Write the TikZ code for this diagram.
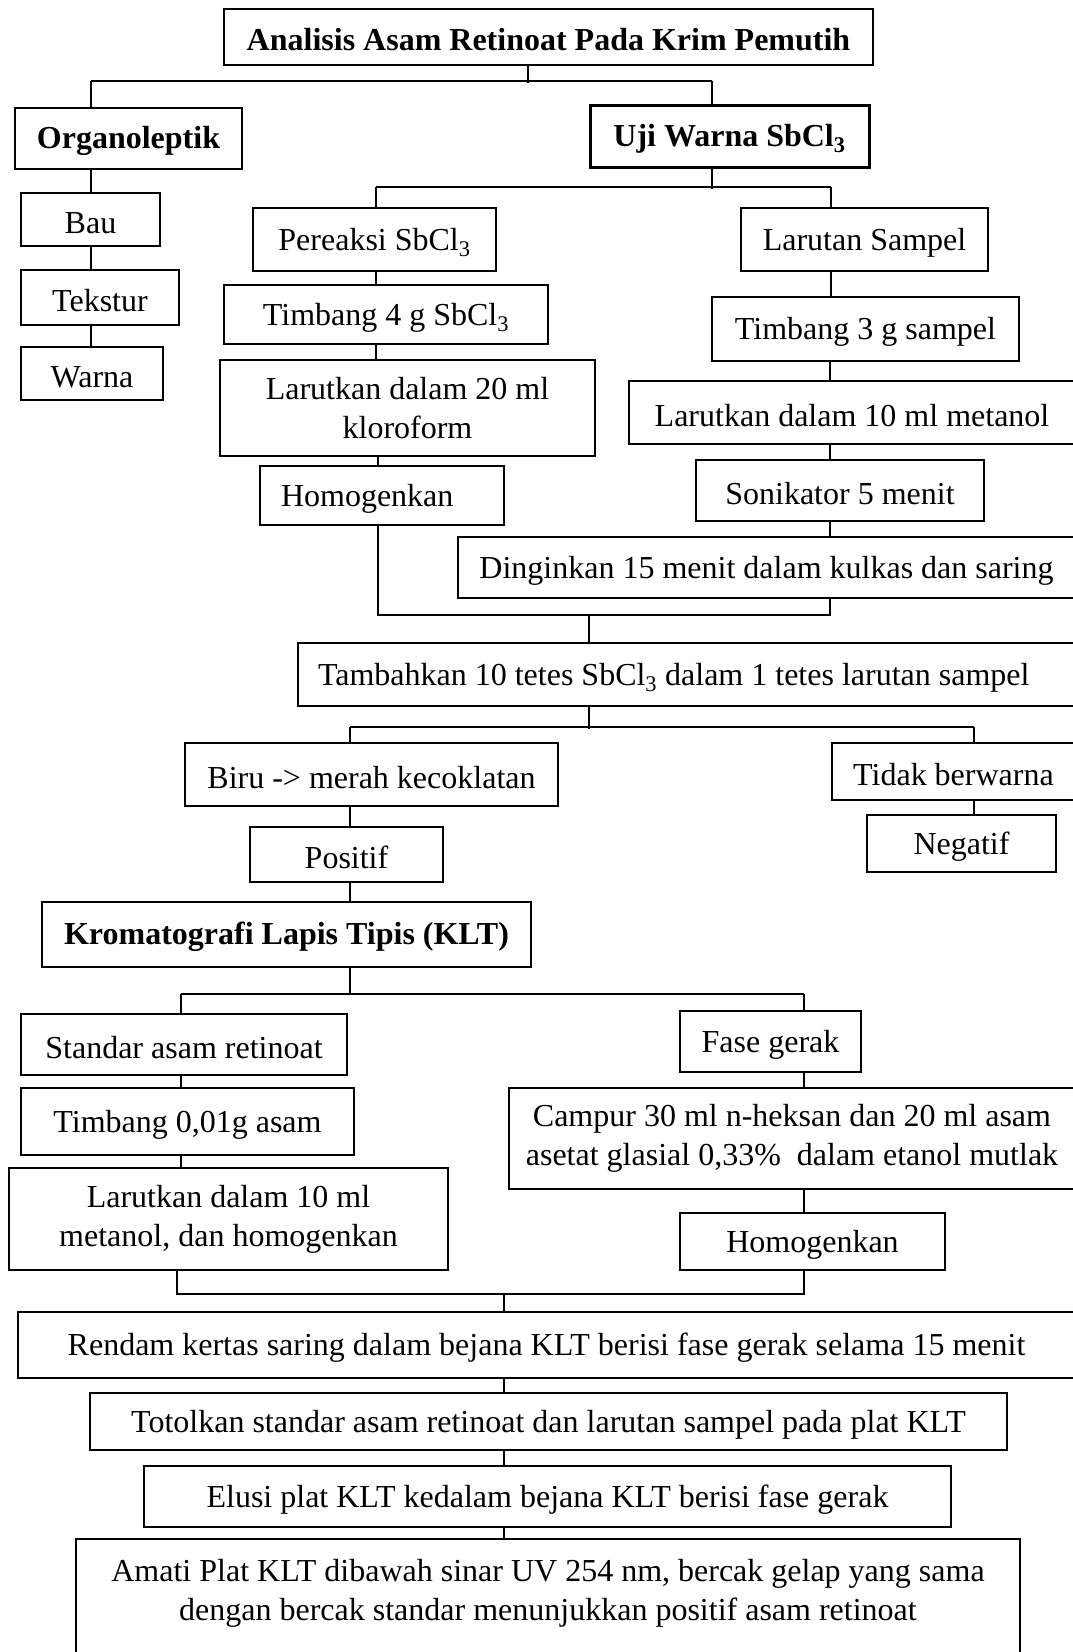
\documentclass[tikz,border=0pt]{standalone}
\usepackage{fontspec}
\setmainfont{Liberation Serif}
\usepackage{tikz}
\usetikzlibrary{positioning}
\newcommand{\sbcl}{SbCl\textsubscript{3}}

\tikzset{
  kotakdasar/.style={draw, line width=1.5pt, inner sep=0pt, align=center, font=\fontsize{32}{39}\selectfont},
  kotak/.style={kotakdasar, text height=28pt},
  judul/.style={kotak, font=\fontsize{32}{39}\selectfont\bfseries},
  dim/.style 2 args={minimum width=#1pt, minimum height=#2pt},
  garis/.style={line width=1.3pt},
}

\begin{document}
\begin{tikzpicture}[x=1pt,y=1pt,yscale=-1,xscale=1]
\path[use as bounding box, clip] (0,0) rectangle (1073,1652);

% header
\node[judul, dim={649}{56}] (title) at (548.5,37) {Analisis Asam Retinoat Pada Krim Pemutih};
\node[judul, dim={227}{61}] (org) at (128.5,138.5) {Organoleptik};
\node[judul, dim={279}{62}, line width=3pt] (uji) at (729.5,136) {Uji Warna \sbcl};

% organoleptik
\node[kotak, dim={139}{53}] (bau) at (90.5,219.5) {Bau};
\node[kotak, dim={158}{55}] (tekstur) at (100,297.5) {Tekstur};
\node[kotak, dim={142}{53}] (warna) at (92,373.5) {Warna};

% uji warna
\node[kotak, dim={243}{63}] (pereaksi) at (374.5,239.5) {Pereaksi \sbcl};
\node[kotak, dim={247}{63}] (larsampel) at (864.5,239.5) {Larutan Sampel};
\node[kotak, dim={324}{59}] (timbangA) at (386,314.5) {Timbang 4 g \sbcl};
\node[kotak, dim={307}{64}] (timbangB) at (865.5,329) {Timbang 3 g sampel};
\node[kotakdasar, dim={375}{96}] (larutA) at (407.5,408) {Larutkan dalam 20 ml\\kloroform};
\node[kotak, dim={446}{63}] (larutB) at (852,412.5) {Larutkan dalam 10 ml metanol};
\node[kotak, minimum height=59pt, inner xsep=21pt, line width=2pt] (homogenA) at (382,495.5) {\makebox[202pt][l]{Homogenkan}};
\node[kotak, dim={288}{61}] (sonikator) at (840,490.5) {Sonikator 5 menit};
\node[kotak, dim={617}{61}] (dingin) at (766.5,567.5) {Dinginkan 15 menit dalam kulkas dan saring};
\node[kotak, minimum height=63pt, inner xsep=20pt] (tambah) at (686.5,674.5) {\makebox[737pt][l]{Tambahkan 10 tetes \sbcl{} dalam 1 tetes larutan sampel}};
\node[kotak, dim={373}{63}] (biru) at (371.5,774.5) {Biru -> merah kecoklatan};
\node[kotak, dim={243}{57}] (tidak) at (953.5,771.5) {Tidak berwarna};
\node[kotak, dim={193}{55}] (positif) at (346.5,854.5) {Positif};
\node[kotak, dim={189}{57}] (negatif) at (961.5,843.5) {Negatif};

% KLT
\node[judul, dim={489}{65}] (klt) at (286.5,934.5) {Kromatografi Lapis Tipis (KLT)};
\node[kotak, dim={326}{61}] (standar) at (184,1044.5) {Standar asam retinoat};
\node[kotak, dim={181}{61}] (fase) at (770.5,1041.5) {Fase gerak};
\node[kotak, dim={333}{67}] (timbangC) at (187.5,1121.5) {Timbang 0,01g asam};
\node[kotakdasar, dim={566}{101}] (campur) at (792,1138.5) {Campur 30 ml n-heksan dan 20 ml asam\\asetat glasial 0,33\%\ \ dalam etanol mutlak};
\node[kotakdasar, dim={439}{102}] (larutC) at (228.5,1219) {Larutkan dalam 10 ml\\metanol, dan homogenkan};
\node[kotak, dim={265}{57}] (homogenB) at (812.5,1241.5) {Homogenkan};
\node[kotak, dim={1057}{66}] (rendam) at (546.5,1345) {Rendam kertas saring dalam bejana KLT berisi fase gerak selama 15 menit};
\node[kotak, dim={917}{57}] (totol) at (548.5,1421.5) {Totolkan standar asam retinoat dan larutan sampel pada plat KLT};
\node[kotak, dim={807}{61}] (elusi) at (547.5,1496.5) {Elusi plat KLT kedalam bejana KLT berisi fase gerak};
\node[kotakdasar, dim={944}{121}, text depth=20pt] (amati) at (548,1599.5) {Amati Plat KLT dibawah sinar UV 254 nm, bercak gelap yang sama\\dengan bercak standar menunjukkan positif asam retinoat};

% junctions
\coordinate (j0) at (528,83);
\coordinate (a1) at (91,81);
\coordinate (a2) at (712,81);
\coordinate (b0) at (712,189);
\coordinate (b1) at (376,187);
\coordinate (b2) at (831,187);
\coordinate (m1) at (378,615);
\coordinate (m2) at (830,615);
\coordinate (m0) at (589,615);
\coordinate (t0) at (589,729);
\coordinate (t1) at (350,727);
\coordinate (t2) at (974,727);
\coordinate (k0) at (350,994);
\coordinate (k1) at (181,994);
\coordinate (k2) at (804,994);
\coordinate (n1) at (177,1294);
\coordinate (n2) at (804,1294);
\coordinate (n0) at (504,1294);

% connectors
\draw[garis] (title.south -| j0) -- (j0);
\draw[garis] (a1) -- (a2);
\draw[garis] (a1) -- (org.north -| a1);
\draw[garis] (a2) -- (uji.north -| a2);
\draw[garis] (org.south -| a1) -- (bau.north -| a1);
\draw[garis] (bau.south -| a1) -- (tekstur.north -| a1);
\draw[garis] (tekstur.south -| a1) -- (warna.north -| a1);

\draw[garis] (uji.south -| b0) -- (b0);
\draw[garis] (b1) -- (b2);
\draw[garis] (b1) -- (pereaksi.north -| b1);
\draw[garis] (b2) -- (larsampel.north -| b2);
\draw[garis] (pereaksi.south -| b1) -- (timbangA.north -| b1);
\draw[garis] (timbangA.south -| b1) -- (larutA.north -| b1);
\draw[garis] (larutA.south -| m1) -- (homogenA.north -| m1);
\draw[garis] (larsampel.south -| b2) -- (timbangB.north -| b2);
\draw[garis] (timbangB.south -| m2) -- (larutB.north -| m2);
\draw[garis] (larutB.south -| m2) -- (sonikator.north -| m2);
\draw[garis] (sonikator.south -| m2) -- (dingin.north -| m2);

\draw[garis] (homogenA.south -| m1) -- (m1) -- (m2) -- (dingin.south -| m2);
\draw[garis] (m0) -- (tambah.north -| m0);

\draw[garis] (tambah.south -| t0) -- (t0);
\draw[garis] (t1) -- (t2);
\draw[garis] (t1) -- (biru.north -| t1);
\draw[garis] (t2) -- (tidak.north -| t2);
\draw[garis] (biru.south -| t1) -- (positif.north -| t1);
\draw[garis] (tidak.south -| t2) -- (negatif.north -| t2);
\draw[garis] (positif.south -| t1) -- (klt.north -| t1);

\draw[garis] (klt.south -| k0) -- (k0);
\draw[garis] (k1) -- (k2);
\draw[garis] (k1) -- (standar.north -| k1);
\draw[garis] (k2) -- (fase.north -| k2);
\draw[garis] (standar.south -| k1) -- (timbangC.north -| k1);
\draw[garis] (timbangC.south -| k1) -- (larutC.north -| k1);
\draw[garis] (fase.south -| k2) -- (campur.north -| k2);
\draw[garis] (campur.south -| k2) -- (homogenB.north -| k2);

\draw[garis] (larutC.south -| n1) -- (n1) -- (n2) -- (homogenB.south -| n2);
\draw[garis] (n0) -- (rendam.north -| n0);
\draw[garis] (rendam.south -| n0) -- (totol.north -| n0);
\draw[garis] (totol.south -| n0) -- (elusi.north -| n0);
\draw[garis] (elusi.south -| n0) -- (amati.north -| n0);

\end{tikzpicture}
\end{document}
